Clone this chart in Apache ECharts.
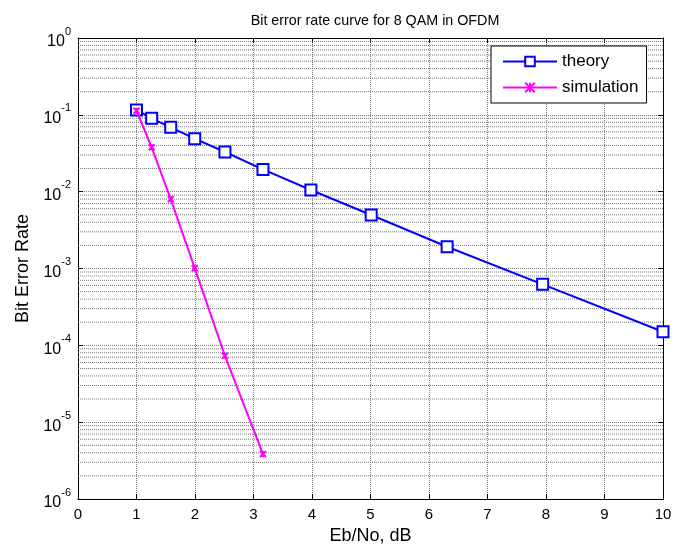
<!DOCTYPE html>
<html><head><meta charset="utf-8">
<script src="https://cdn.jsdelivr.net/npm/echarts@6/dist/echarts.min.js"></script>
<style>html,body{margin:0;padding:0;background:#fff}#c{width:683px;height:544px}</style>
</head><body><div id="c"></div>
<script>
var ebno = [1, 1.259, 1.585, 1.995, 2.512, 3.162, 3.981, 5.012, 6.310, 7.943, 10];
var theory = [0.1156, 0.0901, 0.0688, 0.0489, 0.0328, 0.0195, 0.0105, 0.00497, 0.00192, 0.000622, 0.000150];
var simX = [1, 1.259, 1.585, 1.995, 2.512, 3.162];
var simulation = [0.113, 0.0378, 0.0080, 0.00101, 0.000073, 0.00000385];
var xTicks = [0,1,2,3,4,5,6,7,8,9,10];
var decades = [-6,-5,-4,-3,-2,-1];
var mantissas = [2,3,4,5,6,7,8,9];

var font = 'Liberation Sans, Arial, sans-serif';
var gridColor = '#777';
var gridSeries = [];
decades.forEach(function(d){ mantissas.forEach(function(m){
  var v = m*Math.pow(10,d);
  gridSeries.push({type:'line', data:[[xTicks[0], v],[xTicks[xTicks.length-1], v]], symbol:'none', silent:true,
    lineStyle:{color:gridColor, type:[1,1], width:1}, z:1, animation:false, legendHoverLink:false, tooltip:{show:false}});
}); });

var gridLine = {show:true, lineStyle:{color:gridColor, type:[1,1], width:1}};
var chart = echarts.init(document.getElementById('c'), null, {renderer:'canvas'});
chart.setOption({
  animation:false,
  backgroundColor:'#fff',
  title:{text:'Bit error rate curve for 8 QAM in OFDM', left:370, top:9, textAlign:'center',
    textStyle:{fontFamily:font, fontSize:14.3, fontWeight:'normal', color:'#000'}},
  grid:{left:78, right:20, top:38, bottom:45, containLabel:false, outerBoundsMode:'none'},
  legend:{
    left:491, top:46, width:159, height:57, orient:'vertical',
    backgroundColor:'#fff', borderColor:'#000', borderWidth:1,
    padding:[7,8,7,11], itemGap:9, itemWidth:54, itemHeight:12,
    textStyle:{fontFamily:font, fontSize:17, color:'#000'},
    data:['theory','simulation']
  },
  xAxis:[{
    type:'value', min:0, max:10, interval:1,
    name:'Eb/No, dB', nameLocation:'middle', nameGap:28,
    nameTextStyle:{fontFamily:font, fontSize:18, color:'#000'},
    axisLine:{show:true, lineStyle:{color:'#000', width:1}},
    axisTick:{show:true, inside:true, length:5, lineStyle:{color:'#000'}},
    axisLabel:{fontFamily:font, fontSize:15, color:'#000', margin:8,
      formatter:function(v){return xTicks.indexOf(v)>=0 ? String(v) : '';}},
    splitLine:gridLine
  },{
    type:'value', min:0, max:10, interval:1, position:'top',
    axisLine:{show:true, onZero:false, lineStyle:{color:'#000', width:1}},
    axisTick:{show:true, inside:true, length:5, lineStyle:{color:'#000'}},
    axisLabel:{show:false}, splitLine:{show:false}
  }],
  yAxis:[{
    type:'log', logBase:10, min:1e-6, max:1,
    name:'Bit Error Rate', nameLocation:'middle', nameGap:46, nameRotate:90,
    nameTextStyle:{fontFamily:font, fontSize:18, color:'#000'},
    axisLine:{show:true, lineStyle:{color:'#000', width:1}},
    axisTick:{show:true, inside:true, length:5, lineStyle:{color:'#000'}},
    axisLabel:{margin:7, color:'#000',
      formatter:function(v){ var e=Math.round(Math.log10(v)); return '{b|10}{s|'+e+'}'; },
      rich:{ b:{fontFamily:font, fontSize:16, color:'#000', lineHeight:24, verticalAlign:'bottom'},
             s:{fontFamily:font, fontSize:11, color:'#000', lineHeight:24, verticalAlign:'top'} }},
    splitLine:gridLine
  },{
    type:'log', logBase:10, min:1e-6, max:1, position:'right',
    axisLine:{show:true, onZero:false, lineStyle:{color:'#000', width:1}},
    axisTick:{show:true, inside:true, length:5, lineStyle:{color:'#000'}},
    axisLabel:{show:false}, splitLine:{show:false}
  }],
  series:[{
    name:'theory', type:'line', data:ebno.map(function(x,i){return [x, theory[i]];}),
    symbol:'rect', symbolSize:11, showAllSymbol:true,
    lineStyle:{color:'#0000ff', width:2},
    itemStyle:{color:'#fff', borderColor:'#0000ff', borderWidth:2},
    z:3
  },{
    name:'simulation', type:'line', data:simX.map(function(x,i){return [x, simulation[i]];}),
    symbol:'path://M0,0L10,10M10,0L0,10M5,0L5,10', symbolSize:6, showAllSymbol:true,
    lineStyle:{color:'#ff00ff', width:2},
    itemStyle:{color:'#ff00ff', borderColor:'#ff00ff', borderWidth:2},
    z:4
  }].concat(gridSeries)
});
</script></body></html>
